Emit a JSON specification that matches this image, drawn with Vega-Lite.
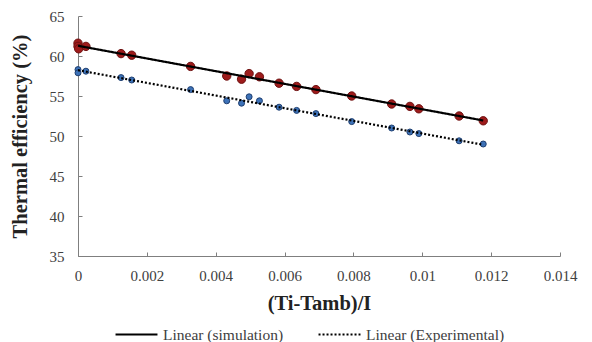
{
  "$schema": "https://vega.github.io/schema/vega-lite/v6.json",
  "width": 482,
  "height": 240,
  "autosize": "none",
  "padding": {"left": 78, "top": 16, "right": 32, "bottom": 86},
  "background": "white",
  "config": {
    "view": {"stroke": null},
    "font": "Liberation Serif"
  },
  "data": {
    "values": [
      {"series": "simulation", "x": 0, "y": 61.6},
      {"series": "simulation", "x": 0, "y": 61.2},
      {"series": "simulation", "x": 0.00002, "y": 60.9},
      {"series": "simulation", "x": 0.00023, "y": 61.2},
      {"series": "simulation", "x": 0.00125, "y": 60.3},
      {"series": "simulation", "x": 0.00156, "y": 60.1},
      {"series": "simulation", "x": 0.00327, "y": 58.7},
      {"series": "simulation", "x": 0.00432, "y": 57.5},
      {"series": "simulation", "x": 0.00475, "y": 57.1},
      {"series": "simulation", "x": 0.00497, "y": 57.8},
      {"series": "simulation", "x": 0.00527, "y": 57.4},
      {"series": "simulation", "x": 0.00584, "y": 56.6},
      {"series": "simulation", "x": 0.00635, "y": 56.2},
      {"series": "simulation", "x": 0.00691, "y": 55.8},
      {"series": "simulation", "x": 0.00795, "y": 55.0},
      {"series": "simulation", "x": 0.00911, "y": 54.0},
      {"series": "simulation", "x": 0.00964, "y": 53.7},
      {"series": "simulation", "x": 0.0099, "y": 53.4},
      {"series": "simulation", "x": 0.01107, "y": 52.5},
      {"series": "simulation", "x": 0.01177, "y": 51.9},
      {"series": "Experimental", "x": 0, "y": 58.3},
      {"series": "Experimental", "x": 0, "y": 57.9},
      {"series": "Experimental", "x": 0.00023, "y": 58.1},
      {"series": "Experimental", "x": 0.00125, "y": 57.3},
      {"series": "Experimental", "x": 0.00156, "y": 57.0},
      {"series": "Experimental", "x": 0.00327, "y": 55.8},
      {"series": "Experimental", "x": 0.00432, "y": 54.4},
      {"series": "Experimental", "x": 0.00475, "y": 54.1},
      {"series": "Experimental", "x": 0.00497, "y": 54.9},
      {"series": "Experimental", "x": 0.00527, "y": 54.4},
      {"series": "Experimental", "x": 0.00584, "y": 53.6},
      {"series": "Experimental", "x": 0.00635, "y": 53.2},
      {"series": "Experimental", "x": 0.00691, "y": 52.8},
      {"series": "Experimental", "x": 0.00795, "y": 51.8},
      {"series": "Experimental", "x": 0.00911, "y": 51.0},
      {"series": "Experimental", "x": 0.00964, "y": 50.5},
      {"series": "Experimental", "x": 0.0099, "y": 50.3},
      {"series": "Experimental", "x": 0.01107, "y": 49.4},
      {"series": "Experimental", "x": 0.01177, "y": 49.0}
    ]
  },
  "encoding": {
    "x": {
      "field": "x", "type": "quantitative",
      "scale": {"domain": [0, 0.014], "nice": false},
      "axis": {
        "title": "(Ti-Tamb)/I",
        "values": [0, 0.002, 0.004, 0.006, 0.008, 0.01, 0.012, 0.014],
        "format": "~g",
        "grid": false,
        "domainColor": "#7f7f7f",
        "tickColor": "#7f7f7f",
        "tickSize": -4,
        "labelFont": "Liberation Serif",
        "labelFontSize": 15,
        "labelColor": "#404040",
        "labelPadding": 16,
        "labelFlush": false,
        "titleFont": "Liberation Serif",
        "titleFontSize": 20.5,
        "titleFontWeight": "bold",
        "titleColor": "#222222",
        "titlePadding": 10
      }
    },
    "y": {
      "field": "y", "type": "quantitative",
      "scale": {"domain": [35, 65], "nice": false, "zero": false},
      "axis": {
        "title": "Thermal efficiency (%)",
        "values": [35, 40, 45, 50, 55, 60, 65],
        "grid": false,
        "domainColor": "#7f7f7f",
        "tickColor": "#7f7f7f",
        "tickSize": -4,
        "labelFont": "Liberation Serif",
        "labelFontSize": 15,
        "labelColor": "#404040",
        "labelPadding": 18,
        "titleFont": "Liberation Serif",
        "titleFontSize": 20.5,
        "titleFontWeight": "bold",
        "titleColor": "#222222",
        "titlePadding": 19
      }
    }
  },
  "layer": [
    {
      "transform": [{"filter": "datum.series === 'simulation'"}],
      "mark": {"type": "point", "filled": true, "opacity": 1, "size": 70, "color": "#9e1b1b", "stroke": "#6e1010", "strokeWidth": 1}
    },
    {
      "transform": [{"filter": "datum.series === 'Experimental'"}],
      "mark": {"type": "point", "filled": true, "opacity": 1, "size": 36, "color": "#3d72b8", "stroke": "#1f3f70", "strokeWidth": 1}
    },
    {
      "transform": [
        {"regression": "y", "on": "x", "groupby": ["series"]}
      ],
      "mark": {"type": "line", "color": "black", "strokeWidth": 2.2},
      "encoding": {
        "strokeDash": {
          "field": "series", "type": "nominal",
          "scale": {"domain": ["simulation", "Experimental"], "range": [[1, 0], [2, 2]]},
          "legend": {
            "title": null,
            "orient": "none",
            "direction": "horizontal",
            "legendX": 36,
            "legendY": 296,
            "symbolType": "stroke",
            "symbolSize": 1760,
            "symbolStrokeWidth": 2.2,
            "symbolStrokeColor": "black",
            "labelExpr": "'Linear (' + datum.label + ')'",
            "labelFont": "Liberation Serif",
            "labelFontSize": 15.5,
            "labelColor": "#404040",
            "labelOffset": 4,
            "columnPadding": 30
          }
        }
      }
    }
  ]
}
